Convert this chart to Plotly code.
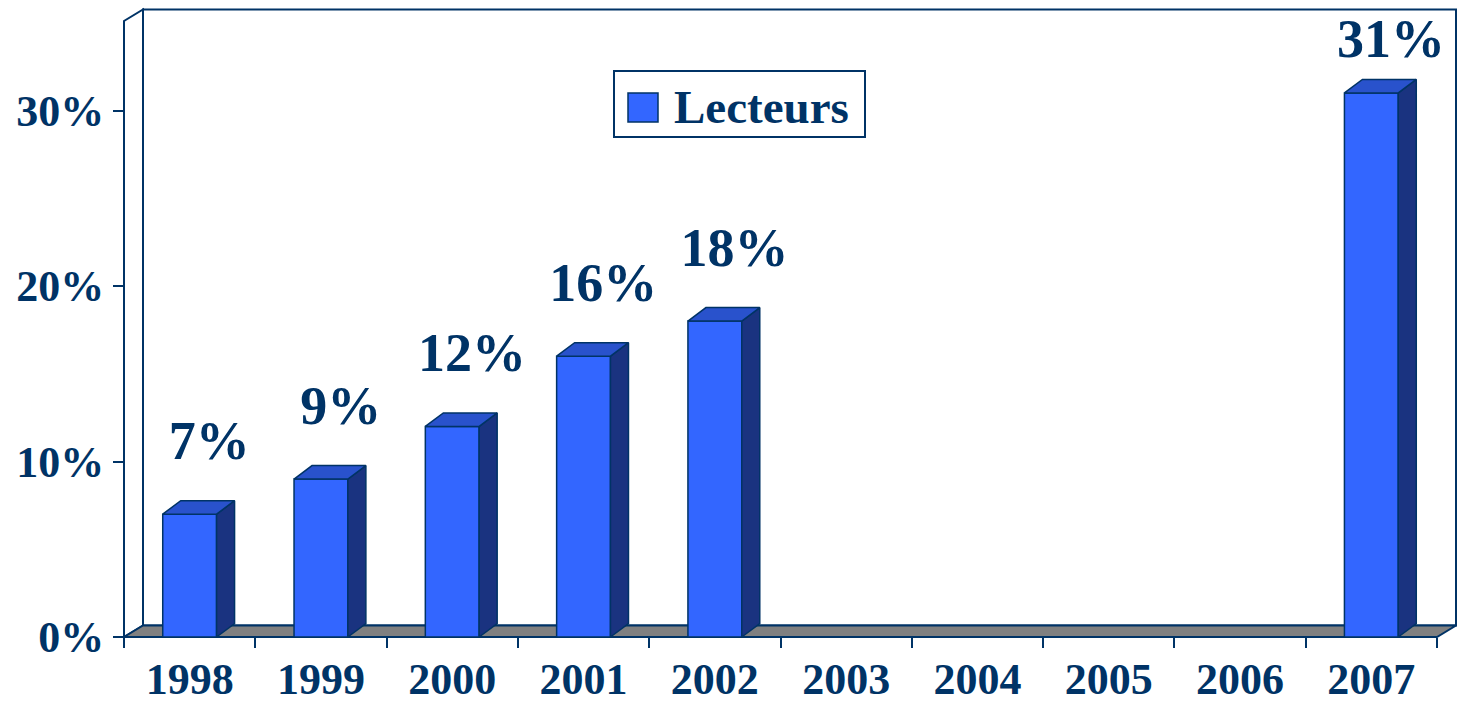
import plotly.graph_objects as go

# Data
years = ['1998', '1999', '2000', '2001', '2002', '2003', '2004', '2005', '2006', '2007']
lecteurs = [7, 9, 12, 16, 18, None, None, None, None, 31]
y_ticks = [0, 10, 20, 30]
y_tick_text = ['0%', '10%', '20%', '30%']

# Colours
NAVY = '#003366'
FRONT = '#3366FF'
TOP = '#2952CC'
SIDE = '#1A3380'
FLOOR = '#808080'
FONT = 'Liberation Serif, Times New Roman, serif'

# Page geometry (pixels)
W, H = 1457, 705
M_L, M_R, M_T, M_B = 110, 0, 0, 55
X0_PX = 124     # pixel of the left front edge (x = -0.5)
Y0_PX = 637     # pixel of y = 0
PX_X = 131.3    # pixels per category
PX_Y = 17.55    # pixels per percent

x_range = [-0.5 - (X0_PX - M_L) / PX_X, -0.5 + (W - M_R - X0_PX) / PX_X]
y_range = [-(H - M_B - Y0_PX) / PX_Y, (Y0_PX - M_T) / PX_Y]


def px_x(px):
    return -0.5 + (px - X0_PX) / PX_X


def px_y(py):
    return (Y0_PX - py) / PX_Y


# 3D depth
FRONT_TOP = px_y(21)
WDX, WDY = 19 / PX_X, 11.5 / PX_Y      # walls
BDX, BDY = 18 / PX_X, 13.5 / PX_Y      # bars
BW = 0.41
n = len(years)
xs = list(range(n))


def path(pts):
    return 'M ' + ' L '.join(f'{x},{y}' for x, y in pts) + ' Z'


x_l, x_r = -0.5, n - 0.5
shapes = [
    # back wall
    dict(type='path', layer='below', xref='x', yref='y', fillcolor='white',
         line=dict(color=NAVY, width=2),
         path=path([(x_l + WDX, WDY), (x_l + WDX, FRONT_TOP + WDY),
                    (x_r + WDX, FRONT_TOP + WDY), (x_r + WDX, WDY)])),
    # left wall
    dict(type='path', layer='below', xref='x', yref='y', fillcolor='white',
         line=dict(color=NAVY, width=2),
         path=path([(x_l, 0), (x_l, FRONT_TOP), (x_l + WDX, FRONT_TOP + WDY), (x_l + WDX, WDY)])),
    # floor
    dict(type='path', layer='below', xref='x', yref='y', fillcolor=FLOOR,
         line=dict(color=NAVY, width=2),
         path=path([(x_l, 0), (x_r, 0), (x_r + WDX, WDY), (x_l + WDX, WDY)])),
    # legend box
    dict(type='rect', xref='x', yref='y', fillcolor='white',
         line=dict(color=NAVY, width=2),
         x0=px_x(614), x1=px_x(865), y0=px_y(137), y1=px_y(71)),
    dict(type='rect', xref='x', yref='y', fillcolor=FRONT,
         line=dict(color=NAVY, width=1.5),
         x0=px_x(628), x1=px_x(658), y0=px_y(122), y1=px_y(93)),
]

# side and top faces built from the values
side_x, side_y, top_x, top_y = [], [], [], []
for i, v in zip(xs, lecteurs):
    if v is None:
        continue
    xl, xr = i - BW / 2, i + BW / 2
    side_x += [xr, xr + BDX, xr + BDX, xr, xr, None]
    side_y += [0, BDY, v + BDY, v, 0, None]
    top_x += [xl, xl + BDX, xr + BDX, xr, xl, None]
    top_y += [v, v + BDY, v + BDY, v, v, None]

fig = go.Figure()
fig.add_trace(go.Bar(
    x=xs, y=lecteurs, width=BW, name='Lecteurs',
    marker=dict(color=FRONT, line=dict(color=NAVY, width=1.5)),
    showlegend=False, hoverinfo='skip'
))
fig.add_trace(go.Scatter(
    x=side_x, y=side_y, mode='lines', fill='toself', fillcolor=SIDE,
    line=dict(color=NAVY, width=1.5), showlegend=False, hoverinfo='skip'
))
fig.add_trace(go.Scatter(
    x=top_x, y=top_y, mode='lines', fill='toself', fillcolor=TOP,
    line=dict(color=NAVY, width=1.5), showlegend=False, hoverinfo='skip'
))

lbl_x = [i + 0.15 for i, v in zip(xs, lecteurs) if v is not None]
lbl_y = [min(v + 3.9, 33.8) for v in lecteurs if v is not None]
lbl_t = [f'{v}%' for v in lecteurs if v is not None]
fig.add_trace(go.Scatter(
    x=lbl_x, y=lbl_y, text=lbl_t, mode='text', textposition='middle center',
    textfont=dict(family=FONT, size=54, color=NAVY, weight='bold'),
    showlegend=False, hoverinfo='skip', cliponaxis=False
))

fig.add_annotation(
    x=px_x(672), y=px_y(107), xref='x', yref='y', text='Lecteurs',
    showarrow=False, xanchor='left', yanchor='middle',
    font=dict(family=FONT, size=47, color=NAVY, weight='bold')
)

fig.update_layout(
    width=W, height=H,
    margin=dict(l=M_L, r=M_R, t=M_T, b=M_B),
    paper_bgcolor='white', plot_bgcolor='white',
    shapes=shapes, showlegend=False,
    xaxis=dict(
        range=x_range, anchor='free', position=(H - M_B - Y0_PX) / (H - M_T - M_B),
        tickmode='array', tickvals=xs, ticktext=years, ticks='',
        tickfont=dict(family=FONT, size=44, color=NAVY, weight='bold'),
        ticklabelstandoff=12, automargin=False,
        minor=dict(tickmode='array', tickvals=[i - 0.5 for i in range(n + 1)],
                   ticks='outside', ticklen=10, tickwidth=2, tickcolor=NAVY, showgrid=False),
        showgrid=False, zeroline=False, showline=False, fixedrange=True
    ),
    yaxis=dict(
        range=y_range, anchor='free', position=(X0_PX - M_L) / (W - M_L - M_R),
        tickmode='array', tickvals=y_ticks, ticktext=y_tick_text,
        ticks='outside', ticklen=11, tickwidth=2, tickcolor=NAVY,
        tickfont=dict(family=FONT, size=44, color=NAVY, weight='bold'),
        automargin=False,
        showgrid=False, zeroline=False, showline=False, fixedrange=True
    ),
)

# the page body has a default 8px margin; remove it so the figure fills the window
fig.write_html('out.html', config={'displayModeBar': False},
               post_script="document.body.style.margin='0';document.body.style.overflow='hidden';")
